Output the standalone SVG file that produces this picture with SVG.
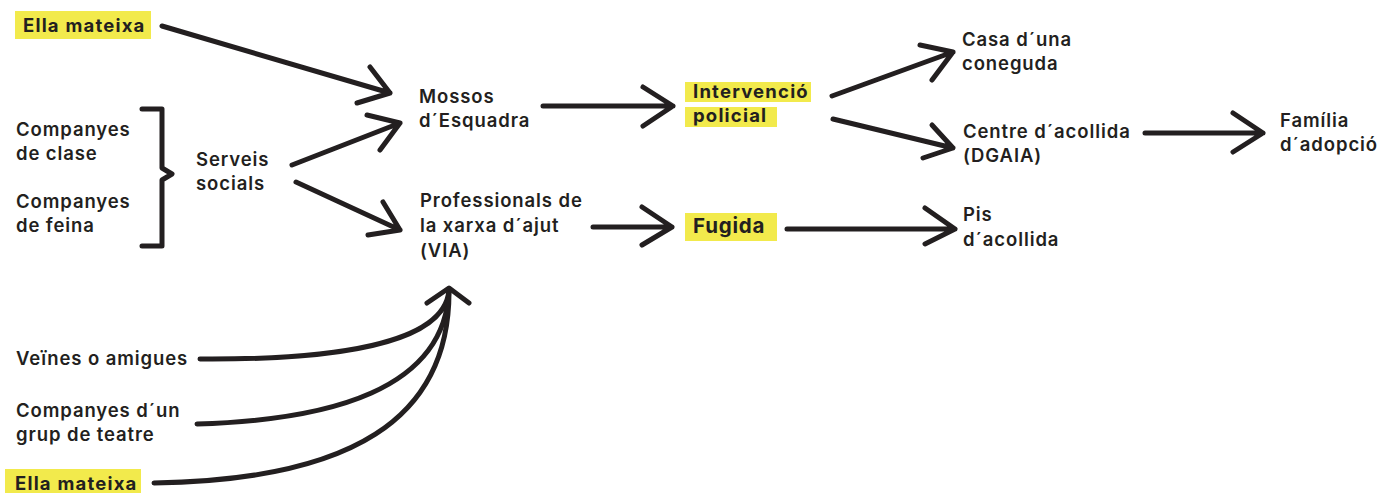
<svg xmlns="http://www.w3.org/2000/svg" width="1381" height="493" viewBox="0 0 1381 493">
<style>
text{font-family:Inter,"Noto Sans","Liberation Sans",sans-serif;font-size:18.5px;font-weight:600;fill:#231f20;letter-spacing:0.9px}
.hl{fill:#f2ea4c}
.b{font-weight:700;letter-spacing:1.2px}
.big{font-size:20.5px;font-weight:700;letter-spacing:0.8px}
.c{fill:none;stroke:#231f20;stroke-width:5;stroke-linecap:round;stroke-linejoin:round}
</style>
<rect width="1381" height="493" fill="#fff"/>
<g id="ella-top"><rect class="hl" x="15" y="11" width="136" height="28"/><text class="b" x="23" y="32">Ella mateixa</text></g>
<g id="companyes-clase"><text x="16" y="136">Companyes</text><text x="16" y="160">de clase</text></g>
<g id="companyes-feina"><text x="16" y="208">Companyes</text><text x="16" y="232">de feina</text></g>
<g id="serveis"><text x="196" y="166">Serveis</text><text x="196" y="190">socials</text></g>
<g id="mossos"><text x="419" y="103">Mossos</text><text x="419" y="127">d´Esquadra</text></g>
<g id="professionals"><text x="420" y="207">Professionals de</text><text x="420" y="232">la xarxa d´ajut</text><text x="420" y="257">(VIA)</text></g>
<g id="intervencio"><rect class="hl" x="685" y="82" width="126" height="20"/><rect class="hl" x="685" y="107" width="92" height="20"/><text class="b" x="693" y="98">Intervenció</text><text class="b" x="693" y="122">policial</text></g>
<g id="fugida"><rect class="hl" x="685" y="213" width="92" height="28"/><text class="big" x="693" y="233">Fugida</text></g>
<g id="casa"><text x="962" y="46">Casa d´una</text><text x="962" y="70">coneguda</text></g>
<g id="centre"><text x="963" y="138">Centre d´acollida</text><text x="963" y="162">(DGAIA)</text></g>
<g id="familia"><text x="1280" y="127">Família</text><text x="1280" y="151">d´adopció</text></g>
<g id="pis"><text x="963" y="221">Pis</text><text x="963" y="246">d´acollida</text></g>
<g id="veines"><text x="16" y="365">Veïnes o amigues</text></g>
<g id="companyes-teatre"><text x="16" y="417">Companyes d´un</text><text x="16" y="441">grup de teatre</text></g>
<g id="ella-bottom"><rect class="hl" x="5" y="469" width="136" height="24"/><text class="b" x="15" y="490">Ella mateixa</text></g>
<g id="connectors">
<path class="c" d="M142,109 H162 V168 L172,174 L162,180 V246 H142"/>
<path class="c" d="M162,26 L390,93 M370,67 L390,93 L357,103"/>
<path class="c" d="M292,165 L400,123 M367,115 L400,123 L380,150"/>
<path class="c" d="M296,182 L400,230 M383,202 L400,230 L368,235"/>
<path class="c" d="M543,106 H673 M643,87 L673,106 L643,126"/>
<path class="c" d="M593,227 H672 M642,207 L672,227 L642,245"/>
<path class="c" d="M787,229 H955 M925,208 L955,229 L925,244"/>
<path class="c" d="M832,96 L953,52 M920,45 L953,52 L932,80"/>
<path class="c" d="M833,119 L953,148 M932,125 L953,148 L923,158"/>
<path class="c" d="M1145,133 H1263 M1233,113 L1263,133 L1233,152"/>
<path class="c" d="M200,359 C330,360 445,345 449,290"/>
<path class="c" d="M197,424 C330,420 445,390 449,290"/>
<path class="c" d="M154,483 C350,480 450,420 449,290"/>
<path class="c" d="M427,303 L449,288 L469,303"/>
</g>
</svg>
